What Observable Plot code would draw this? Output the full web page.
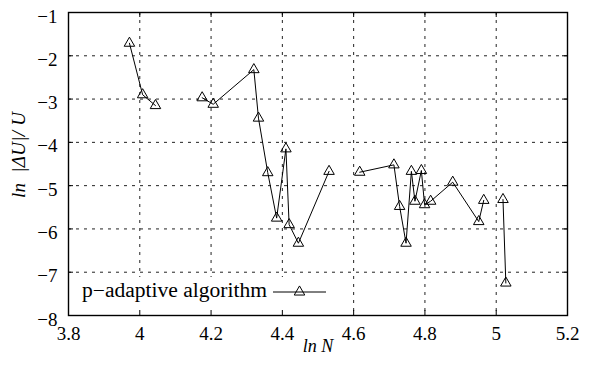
<!DOCTYPE html>
<html>
<head>
<meta charset="utf-8">
<script src="https://cdn.jsdelivr.net/npm/d3@7"></script>
<script src="https://cdn.jsdelivr.net/npm/@observablehq/plot@0.6"></script>
<style>
  html, body { margin: 0; padding: 0; background: white; }
</style>
</head>
<body>
<div id="chart"></div>
<script>
// Data
const lnN   = [3.971, 4.008, 4.044, 4.175, 4.206, 4.320, 4.333, 4.359, 4.384, 4.410, 4.419, 4.445, 4.531,
               4.617, 4.713, 4.729, 4.747, 4.762, 4.772, 4.790, 4.799, 4.816, 4.878, 4.951, 4.965, 5.019, 5.027];
const lnErr = [-1.71, -2.90, -3.15, -2.97, -3.12, -2.32, -3.44, -4.70, -5.75, -4.15, -5.90, -6.33, -4.67,
               -4.69, -4.52, -5.48, -6.33, -4.67, -5.36, -4.65, -5.44, -5.36, -4.92, -5.83, -5.34, -5.32, -7.25];
const segment = [0, 0, 0, 1, 1, 1, 1, 1, 1, 1, 1, 1, 1,
                 2, 2, 2, 2, 2, 2, 2, 2, 2, 2, 2, 2, 3, 3];
const xTicks = [3.8, 4, 4.2, 4.4, 4.6, 4.8, 5, 5.2];
const yTicks = [-1, -2, -3, -4, -5, -6, -7, -8];
const seriesName = "p\u2212adaptive algorithm";
const xLabel = "ln N";
const yLabel = "ln  |\u0394U|/ U";

const data = lnN.map((x, i) => ({x, y: lnErr[i], s: segment[i]}));
const fmt = d => String(d).replace("-", "\u2212");

const FONT = "Times New Roman, Liberation Serif, serif";
const W = 594, H = 365;
const mL = 68, mR = 27, mT = 12, mB = 50;
const pw = W - mL - mR, ph = H - mT - mB;
const tick = 5;
const gridStyle = {stroke: "#222", strokeOpacity: 1, strokeWidth: 1, strokeDasharray: "3,5"};

const svg = Plot.plot({
  width: W, height: H,
  marginLeft: mL, marginRight: mR, marginTop: mT, marginBottom: mB,
  style: {fontFamily: FONT, fontSize: "19px", color: "black", background: "white"},
  x: {domain: [3.8, 5.2], ticks: xTicks},
  y: {domain: [-8, -1], ticks: yTicks},
  marks: [
    Plot.gridX(xTicks.slice(1, -1), {...gridStyle}),
    Plot.gridY(yTicks.slice(1, -1), {...gridStyle}),
    Plot.line(data, {x: "x", y: "y", z: "s", stroke: "black", strokeWidth: 1}),
    Plot.dot(data, {x: "x", y: "y", symbol: "triangle", r: 3.9, stroke: "black", fill: "none", strokeWidth: 1}),
    // inward ticks on all four sides
    Plot.gridX(xTicks, {stroke: "black", strokeOpacity: 1, strokeWidth: 1, insetTop: ph - tick}),
    Plot.gridX(xTicks, {stroke: "black", strokeOpacity: 1, strokeWidth: 1, insetBottom: ph - tick}),
    Plot.gridY(yTicks, {stroke: "black", strokeOpacity: 1, strokeWidth: 1, insetRight: pw - tick}),
    Plot.gridY(yTicks, {stroke: "black", strokeOpacity: 1, strokeWidth: 1, insetLeft: pw - tick}),
    Plot.frame({stroke: "black", strokeWidth: 1.4}),
    Plot.axisX(xTicks, {tickSize: 0, tickPadding: 11, fontSize: 19, fontFamily: FONT, tickFormat: fmt, label: null}),
    Plot.axisY(yTicks, {tickSize: 0, tickPadding: 11, dy: 4, fontSize: 19, fontFamily: FONT, tickFormat: fmt, label: null}),
    Plot.text([xLabel], {frameAnchor: "bottom", dy: 36, text: d => d, textAnchor: "middle", fontStyle: "italic", fontSize: 18, fontFamily: FONT}),
    Plot.text([yLabel], {frameAnchor: "left", dx: -50, dy: -9, rotate: -90, text: d => d, textAnchor: "middle", fontStyle: "italic", fontSize: 19, fontFamily: FONT})
  ]
});

const root = d3.select(svg);
// stretch the rotated axis title to the reference's length
root.selectAll("text").filter(function () { return this.textContent === yLabel; })
  .attr("textLength", 86).attr("lengthAdjust", "spacing");

// legend (opaque key box, as in the reference)
const lineSel = root.select("g[aria-label=line]");
const key = root.insert("g", () => lineSel.node()).attr("aria-label", "legend");
key.append("rect").attr("x", mL + 1).attr("y", 277).attr("width", 268).attr("height", mT + ph - 278).attr("fill", "white");
key.append("text").attr("x", 82).attr("y", 297).attr("font-size", 20).attr("font-family", FONT)
   .attr("text-anchor", "start").attr("textLength", 185)
   .attr("lengthAdjust", "spacingAndGlyphs").attr("fill", "black").text(seriesName);
key.append("line").attr("x1", 273).attr("x2", 326).attr("y1", 292).attr("y2", 292).attr("stroke", "black");
key.append("path").attr("transform", "translate(299.5,292)")
   .attr("d", d3.symbol(d3.symbolTriangle, Math.PI * 3.9 * 3.9)())
   .attr("fill", "none").attr("stroke", "black");

document.getElementById("chart").appendChild(svg);
</script>
</body>
</html>
